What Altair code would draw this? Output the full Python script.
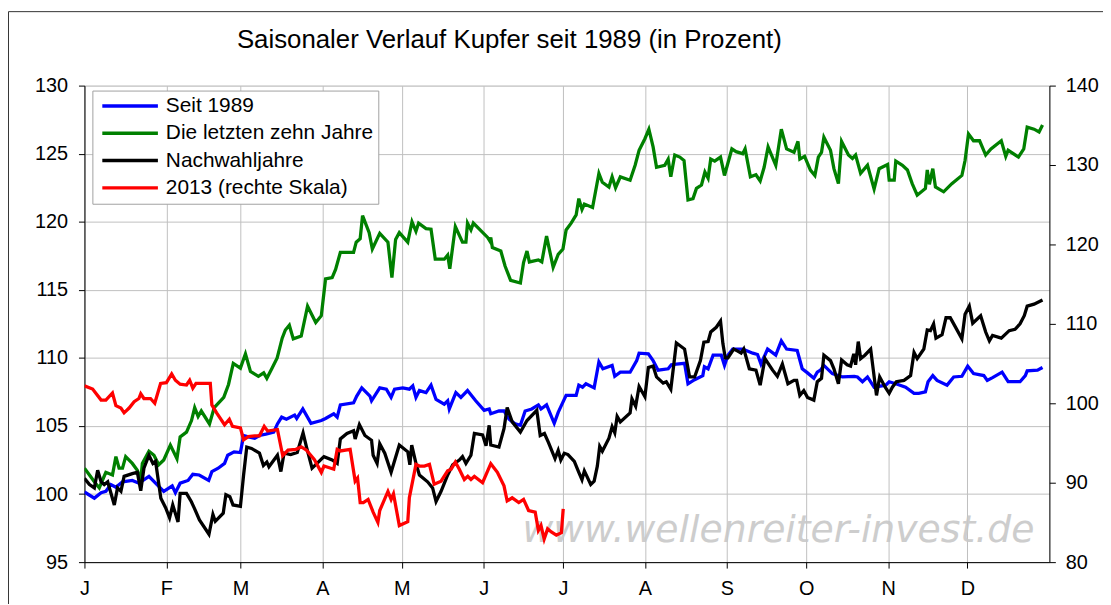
import json
import altair as alt
import pandas as pd

TITLE = "Saisonaler Verlauf Kupfer seit 1989 (in Prozent)"
WATERMARK = "www.wellenreiter-invest.de"

series_names = ["Seit 1989", "Die letzten zehn Jahre", "Nachwahljahre", "2013 (rechte Skala)"]
series_colors = ["#0000ff", "#008000", "#000000", "#ff0000"]

month_starts = [0, 31, 59, 90, 120, 151, 181, 212, 243, 273, 304, 334]
month_labels = ["J", "F", "M", "A", "M", "J", "J", "A", "S", "O", "N", "D"]
left_ticks = [95, 100, 105, 110, 115, 120, 125, 130]
right_ticks = [80, 90, 100, 110, 120, 130, 140]

# (day of year, value)
seit_1989 = [
    (0, 100.15), (3.75, 99.7), (6.3, 100.1), (8.1, 100.2), (10, 100.7), (11.9, 100.5), (14.4, 100.9),
    (18.1, 101.0), (20.6, 100.8), (24.4, 101.3), (26.9, 100.8), (30, 100.2), (33.2, 100.6), (34.4, 100.1),
    (36.2, 100.8), (39.2, 101.0), (41, 101.45), (43.4, 101.4), (47, 101.0), (48.2, 101.65), (50.6, 101.9),
    (53, 102.25), (54.2, 102.85), (56.6, 103.1), (59, 103.05), (60.2, 104.3), (62, 104.2), (64.4, 104.1),
    (66.2, 104.3), (68.6, 104.4), (71.6, 104.55), (73, 105.15), (74.6, 105.65), (76.4, 105.5), (79.5, 105.8),
    (80.3, 105.55), (82.6, 106.25), (85.7, 105.2), (89.6, 105.4), (91.2, 105.55), (94.3, 105.9), (95.6, 105.65),
    (96.8, 106.55), (101.8, 106.7), (103, 107.2), (104.9, 107.8), (108, 107.2), (108.6, 106.85), (111.7, 107.8),
    (114.2, 107.7), (116, 107.1), (117.3, 107.7), (120.4, 107.8), (122.9, 107.7), (124.2, 107.95), (125.4, 107.1),
    (126.7, 107.6), (129.2, 107.45), (131.1, 108.0), (133, 106.95), (136.1, 106.6), (137.4, 106.85), (138, 106.25),
    (140.5, 107.45), (142.4, 107.1), (144.9, 107.6), (148, 106.85), (151.2, 106.15), (153.1, 106.25), (153.7, 105.9),
    (156.8, 106.1), (158.7, 106.1), (160.6, 105.5), (163, 105.15), (164.9, 105.05), (166.7, 106.1), (169.2, 106.25),
    (171.7, 106.55), (172.7, 106.25), (174.8, 106.55), (177.7, 105.2), (179.2, 106.0), (181, 106.75), (182.2, 107.25),
    (186, 107.25), (187, 108.0), (188.4, 107.85), (189.7, 108.1), (192.8, 107.8), (194.6, 109.7), (196.1, 109.2),
    (199.6, 109.45), (200.6, 108.65), (202.7, 108.95), (206.4, 108.95), (208.9, 109.8), (209.8, 110.35),
    (213.3, 110.3), (215.1, 109.8), (217, 109.1), (220.8, 109.2), (222, 109.5), (223.9, 109.55), (227, 109.6),
    (228.3, 108.1), (230.8, 108.4), (233.9, 108.7), (234.5, 109.35), (235.9, 109.2), (237.8, 110.2), (240.9, 110.2),
    (242.1, 109.45), (243.4, 110.2), (245.2, 110.65), (249, 110.65), (250.3, 110.55), (252.8, 110.35),
    (254.6, 110.25), (255.9, 109.55), (258.4, 110.65), (261.5, 110.2), (263.6, 111.25), (265.6, 110.65),
    (269.6, 110.55), (271.5, 109.2), (273.5, 108.9), (275.9, 108.5), (277.2, 108.95), (278.4, 109.1),
    (279.7, 109.45), (282.9, 108.85), (286.7, 108.6), (291.2, 108.65), (292.4, 108.6), (294.3, 108.25),
    (296.2, 108.6), (298.7, 107.85), (303.1, 108.0), (304.4, 108.25), (306.9, 108.1), (310.6, 107.85),
    (313.8, 107.4), (315.6, 107.4), (318.1, 107.5), (319.1, 108.25), (320.9, 108.7), (322.5, 108.35),
    (326.3, 108.0), (328.8, 108.6), (331.9, 108.65), (334.1, 109.4), (336.3, 108.85), (340.2, 108.7),
    (341.5, 108.35), (343.5, 108.55), (347.1, 108.95), (349.4, 108.25), (353.9, 108.25), (355.9, 108.7),
    (356.6, 109.05), (360.5, 109.1), (362.4, 109.3),
]

zehn_jahre = [
    (0, 101.9), (1.9, 101.4), (3.75, 100.9), (5.6, 100.45), (6.9, 101.05), (8.1, 101.6), (10.6, 101.4),
    (11.9, 102.75), (13.1, 101.9), (14.4, 101.9), (15.6, 102.75), (18.1, 102.25), (20, 101.75), (21.3, 101.05),
    (21.9, 102.25), (24.4, 103.15), (26.3, 102.85), (28.1, 102.15), (30, 102.5), (32.5, 103.6), (35, 102.6),
    (36.2, 104.2), (38.6, 104.55), (40.5, 105.4), (41.7, 106.35), (43, 105.7), (44.2, 106.1), (47.3, 105.15),
    (49.1, 106.35), (52.7, 107.1), (54.5, 108.05), (56.3, 109.6), (59, 109.25), (60.9, 110.3), (62.8, 109.0),
    (65.8, 108.65), (67.8, 108.9), (69, 108.5), (71, 109.25), (72.9, 110.0), (74.8, 111.45), (76, 112.05),
    (77.5, 112.4), (79, 111.4), (82, 111.6), (84.4, 113.8), (87.5, 112.6), (89.6, 113.1), (91.2, 115.8),
    (93.7, 115.9), (95, 116.5), (96.8, 117.75), (101.8, 117.75), (102.8, 118.5), (104.3, 118.75), (105.2, 120.45),
    (107.7, 119.2), (108.9, 118.0), (111.7, 119.15), (114.8, 118.5), (116.3, 115.9), (117.7, 118.7),
    (119.1, 119.2), (122.3, 118.5), (123.9, 120.0), (125.4, 119.3), (126.4, 119.9), (129.2, 119.5),
    (131.1, 119.45), (132.7, 117.25), (136.1, 117.25), (137.4, 117.55), (138.2, 116.55), (140.3, 119.65),
    (143, 118.5), (144.3, 118.5), (144.9, 119.9), (146.2, 119.4), (147.1, 119.9), (152.5, 118.85),
    (153.3, 118.6), (153.7, 118.85), (154.3, 118.1), (157.5, 117.85), (159.1, 116.75), (161.2, 115.7),
    (164.9, 115.5), (166.1, 117.0), (167.4, 117.85), (168.3, 117.05), (171.7, 117.2), (173, 117.05),
    (174.8, 118.95), (177.3, 116.65), (179.2, 117.6), (181, 118.0), (182.2, 119.4), (184.1, 119.9),
    (186, 120.5), (187, 121.7), (188.2, 120.9), (189.1, 121.3), (192.2, 121.05), (194.6, 123.55),
    (195.9, 122.9), (198.4, 122.55), (199.6, 123.3), (200.9, 122.5), (202.7, 123.3), (206.4, 123.05),
    (208.3, 124.15), (209.8, 125.25), (212, 126.1), (213.5, 126.8), (215.1, 125.5), (216.4, 124.0),
    (219.5, 124.15), (220.8, 124.6), (221.8, 123.3), (223.3, 124.9), (225.2, 124.75), (226.8, 124.5),
    (228.3, 121.6), (230.2, 121.7), (231.5, 122.45), (233.4, 122.7), (234.7, 123.65), (235.9, 123.2),
    (236.9, 124.6), (238.4, 124.45), (240.6, 124.75), (242.1, 123.4), (244.9, 125.35), (246.5, 125.15),
    (249, 125.0), (249.9, 125.35), (251.9, 123.3), (254, 123.45), (255.6, 123.0), (257.1, 124.0),
    (258.6, 125.5), (261.5, 124.15), (263.6, 126.8), (265.6, 125.35), (268.4, 125.1), (269.9, 125.9),
    (270.6, 124.6), (272.4, 124.8), (274.6, 123.8), (276.3, 123.4), (277.6, 124.75), (278.8, 125.1),
    (279.7, 126.2), (282.2, 125.25), (283.5, 123.9), (285.2, 122.8), (286.4, 125.9), (289, 124.9),
    (290.5, 124.65), (291.7, 124.9), (293.6, 123.55), (296.2, 124.15), (298.7, 122.4), (300.6, 123.9),
    (303.8, 124.2), (304.4, 123.05), (306.3, 123.05), (306.9, 124.45), (309.4, 124.15), (311.3, 123.8),
    (313.1, 122.8), (315, 121.95), (318.1, 122.45), (318.8, 123.8), (319.6, 122.75), (320.9, 123.9),
    (321.9, 122.55), (325, 122.2), (328.1, 122.8), (331.9, 123.4), (333.1, 124.5), (334.4, 126.45),
    (336.3, 125.95), (338.6, 125.95), (340.9, 124.9), (342.9, 125.35), (346.8, 125.95), (348.5, 124.8),
    (349.4, 125.25), (353.3, 124.75), (355.3, 125.35), (356.6, 126.95), (359.2, 126.8), (361.1, 126.6),
    (362.4, 127.1),
]

nachwahljahre = [
    (0, 101.15), (1.9, 100.7), (3.75, 100.45), (5, 101.75), (6.3, 100.9), (7.5, 100.7), (8.8, 100.9),
    (11.3, 99.2), (12.5, 100.45), (13.8, 100.2), (15, 101.3), (18.1, 101.5), (20, 101.6), (21.3, 100.25),
    (22.5, 101.9), (24.4, 102.85), (25.9, 102.25), (26.9, 102.4), (28.9, 99.7), (30.7, 99.0), (32.2, 98.25),
    (33.4, 99.2), (35.4, 97.95), (36.2, 100.05), (38.6, 100.05), (40.4, 99.45), (41.6, 98.95), (43.5, 98.1),
    (47.1, 97.05), (48.6, 98.5), (49.5, 98.0), (52.5, 98.6), (53.5, 99.95), (55, 99.8), (56.2, 99.2),
    (59, 99.1), (60.2, 101.4), (61.4, 103.45), (63.2, 103.35), (66.2, 103.0), (67.7, 102.1), (69, 102.35),
    (69.8, 102.0), (73, 102.85), (74.3, 101.65), (75.5, 103.0), (78, 102.9), (80.5, 103.05), (82.7, 104.5),
    (84, 103.45), (86.1, 101.9), (88, 102.25), (89.8, 102.6), (90.6, 102.75), (93.7, 102.5), (95.6, 102.25),
    (96.8, 104.05), (99.3, 104.45), (101.8, 104.65), (102.4, 104.05), (104, 105.1), (106.1, 104.3),
    (108.6, 103.95), (109.2, 102.85), (110.7, 102.25), (111.7, 103.7), (113.6, 103.0), (116, 101.6),
    (119.1, 103.6), (122.3, 103.1), (123.1, 102.15), (123.8, 103.6), (125.4, 102.25), (126.7, 101.4),
    (129.8, 100.9), (131.7, 100.45), (133, 99.45), (134.9, 100.2), (137.4, 101.4), (139.3, 102.15),
    (141.8, 102.5), (143, 102.75), (144.3, 102.25), (146.2, 102.85), (147.5, 104.45), (150.6, 104.35),
    (151.9, 103.55), (153.1, 105.05), (153.7, 103.6), (156.8, 103.45), (158.7, 104.8), (159.9, 106.35),
    (161.8, 105.3), (164.9, 104.55), (167.4, 105.4), (171.1, 106.15), (172.4, 104.3), (174, 104.45),
    (175.5, 103.8), (178, 102.6), (179.2, 103.2), (180.2, 102.5), (181.5, 103.0), (182.9, 102.9),
    (185.3, 102.4), (187, 101.6), (188.2, 101.05), (189.1, 101.7), (191.5, 100.7), (192.8, 100.95),
    (194, 102.05), (194.9, 103.5), (195.9, 103.15), (198.4, 104.1), (199.6, 104.95), (200.6, 104.5),
    (201.5, 105.7), (202.7, 105.3), (206.4, 105.95), (207.1, 107.0), (208.5, 106.45), (209.8, 107.9),
    (212, 107.15), (213.3, 109.3), (215.1, 109.4), (216.4, 108.6), (218.9, 108.15), (220.1, 108.25),
    (221.8, 107.7), (223.9, 111.1), (227, 110.65), (228.9, 108.6), (230.8, 108.6), (233, 109.8),
    (234.3, 111.15), (235.9, 111.2), (236.9, 111.9), (239, 112.25), (240.6, 112.7), (241.5, 111.05),
    (242.4, 110.0), (243.4, 110.0), (245.6, 110.65), (247.1, 110.5), (248.4, 110.35), (249.4, 110.65),
    (251.5, 109.2), (254, 109.1), (255.6, 108.0), (257.4, 109.95), (260.3, 109.1), (262.1, 108.65),
    (264, 109.55), (266.1, 108.1), (268.4, 108.35), (269.4, 108.35), (270.6, 107.25), (272.1, 107.6),
    (273.5, 107.1), (275.9, 106.9), (277.2, 108.25), (278.8, 108.5), (279.7, 110.2), (282.2, 109.8),
    (283.5, 109.2), (285.2, 108.1), (286.4, 109.85), (288.5, 109.5), (289.8, 109.4), (291, 110.3),
    (291.7, 109.5), (292.7, 111.2), (293.6, 109.95), (295.2, 110.2), (297.4, 110.65), (298.4, 109.1),
    (299.6, 107.25), (300.8, 108.6), (302.9, 107.85), (304.4, 107.4), (305.6, 107.85), (307.1, 108.25),
    (310, 108.35), (312.5, 108.7), (313.8, 110.4), (315, 109.95), (317.5, 110.65), (318.8, 112.05),
    (320, 112.0), (321.2, 112.5), (322.1, 111.45), (324.4, 111.7), (325.9, 112.95), (327.5, 112.95),
    (328.8, 112.5), (331.9, 111.4), (333.1, 113.2), (334.7, 113.8), (336, 112.55), (339, 113.1),
    (340.9, 111.9), (342.3, 111.25), (343.5, 111.65), (346.8, 111.45), (349.8, 112.0), (352, 112.1),
    (353.9, 112.5), (355.5, 113.1), (356.6, 113.8), (359.2, 113.95), (362.4, 114.25),
]

# 2013, right-hand scale
jahr_2013 = [
    (0, 102.2), (3.1, 101.8), (6.3, 100.4), (8.1, 100.4), (10.6, 101.3), (11.9, 99.7), (13.8, 99.4),
    (15, 98.8), (16.9, 99.4), (18.8, 100.2), (20.6, 100.6), (21.3, 101.2), (22.5, 100.6), (25, 100.6),
    (26.6, 100.0), (28.8, 102.5), (31, 102.6), (33, 103.7), (34.4, 102.9), (36.2, 102.4), (38.6, 102.3),
    (39.8, 102.9), (41, 101.9), (42.2, 102.5), (47.6, 102.5), (48.2, 99.8), (50, 98.8), (53, 97.3),
    (54.8, 98.0), (56, 97.1), (59, 96.9), (60.2, 95.4), (62, 95.8), (64.4, 95.9), (66.2, 95.9), (68, 97.1),
    (69.3, 96.5), (73, 96.7), (75, 93.4), (77, 94.1), (80, 94.2), (82, 94.5), (84, 94.1), (87, 92.9),
    (89.6, 91.3), (90.6, 92.1), (94.3, 91.7), (95.6, 94.2), (96.8, 94.0), (100.5, 94.2), (102.4, 90.2),
    (103.3, 90.6), (104.3, 87.5), (105.5, 87.5), (107.3, 87.9), (109.2, 86.3), (111, 85.0), (111.7, 86.5),
    (114.8, 88.9), (116, 87.9), (116.9, 88.6), (119.1, 84.6), (122.3, 85.1), (122.9, 88.1), (125.4, 92.3),
    (126.7, 92.1), (128.6, 92.1), (130.5, 92.3), (132.3, 89.8), (134.9, 90.2), (137.4, 91.5), (138.7, 91.7),
    (140.3, 92.6), (141.8, 91.7), (143.7, 90.4), (145, 90.8), (146.2, 90.4), (147.5, 90.8), (150.6, 90.0),
    (153.7, 92.4), (156.2, 91.3), (158.7, 89.6), (159.9, 87.7), (161.8, 88.1), (164.3, 87.5), (166.1, 87.9),
    (168, 86.5), (170.5, 86.3), (171.7, 84.0), (172.7, 84.6), (173.9, 82.9), (175.2, 84.2), (176.6, 83.8),
    (178.5, 83.4), (180.4, 83.7), (181.1, 86.7),
]

FONT = "Liberation Sans, Arial"


def frame(points, name):
    return pd.DataFrame({"day": [p[0] for p in points], "value": [p[1] for p in points], "series": name})


left_df = pd.concat([
    frame(seit_1989, series_names[0]),
    frame(zehn_jahre, series_names[1]),
    frame(nachwahljahre, series_names[2]),
], ignore_index=True)
right_df = frame(jahr_2013, series_names[3])

label_expr = "{}[indexof({}, datum.value)]".format(json.dumps(month_labels), json.dumps(month_starts))

x_enc = alt.X(
    "day:Q",
    scale=alt.Scale(domain=[0, 365], nice=False, zero=False),
    axis=alt.Axis(values=month_starts, labelExpr=label_expr, title=None, grid=True,
                  gridColor="#c0c0c0", tickSize=6, labelPadding=11, labelFontSize=20,
                  labelFont=FONT, labelColor="black", domainColor="black", tickColor="black",
                  labelFlush=False),
)

color_enc = alt.Color(
    "series:N",
    scale=alt.Scale(domain=series_names, range=series_colors),
    legend=alt.Legend(
        title=None, orient="none", legendX=8, legendY=5, symbolType="stroke",
        symbolSize=3136, symbolStrokeWidth=3.5, clipHeight=21, labelFontSize=21,
        labelFont=FONT, labelColor="black", rowPadding=5.5, padding=5, symbolOffset=3,
        labelOffset=6, strokeColor="#a0a0a0", fillColor="white", labelLimit=400,
    ),
)

border = alt.Chart(pd.DataFrame({"k": [0]})).mark_rect(
    fillOpacity=0, stroke="#333333", strokeWidth=1
).encode(x=alt.value(-76.5), x2=alt.value(1100), y=alt.value(-74.5), y2=alt.value(700))

watermark = alt.Chart(pd.DataFrame({"k": [0]})).mark_text(
    font="DejaVu Sans", fontStyle="italic", fontSize=38, color="#c8c8c8",
    align="center", baseline="alphabetic", opacity=0.9,
).encode(x=alt.value(699), y=alt.value(460), text=alt.value(WATERMARK))

title_mark = alt.Chart(pd.DataFrame({"k": [0]})).mark_text(
    font=FONT, fontSize=26, color="black", align="center", baseline="alphabetic",
).encode(x=alt.value(428), y=alt.value(-38), text=alt.value(TITLE))

left_lines = alt.Chart(left_df).mark_line(strokeWidth=3.3, clip=True).encode(
    x=x_enc,
    y=alt.Y("value:Q", scale=alt.Scale(domain=[95, 130], nice=False, zero=False),
            axis=alt.Axis(values=left_ticks, orient="left", title=None, grid=True,
                          gridColor="#c0c0c0", tickSize=6, labelPadding=11, labelFontSize=20,
                          labelFont=FONT, labelColor="black", domainColor="black",
                          tickColor="black", labelFlush=False)),
    color=color_enc,
    detail="series:N",
)

right_line = alt.Chart(right_df).mark_line(strokeWidth=3.3, clip=True).encode(
    x=x_enc,
    y=alt.Y("value:Q", scale=alt.Scale(domain=[80, 140], nice=False, zero=False),
            axis=alt.Axis(values=right_ticks, orient="right", title=None, grid=False,
                          tickSize=6, labelPadding=10, labelFontSize=20, labelFont=FONT,
                          labelColor="black", domainColor="black", tickColor="black",
                          labelFlush=False)),
    color=color_enc,
)

chart = alt.layer(border, title_mark, watermark, left_lines, right_line).resolve_scale(
    y="independent"
).properties(
    width=972,
    height=480,
    autosize=alt.AutoSizeParams(type="none"),
    padding={"left": 77, "top": 76, "right": 54, "bottom": 40},
).configure_view(stroke="#404040", strokeWidth=1).configure(background="white")

chart.save("out.html", embed_options={"renderer": "svg", "actions": False})
